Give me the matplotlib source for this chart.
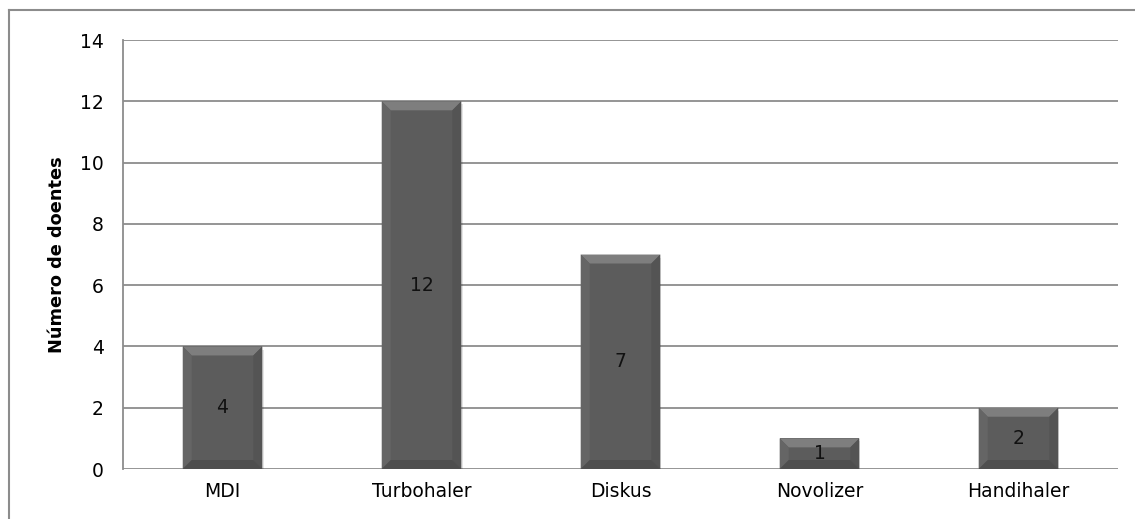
import matplotlib
matplotlib.use("Agg")
import matplotlib.pyplot as plt
from matplotlib.patches import Polygon, Rectangle
from matplotlib.lines import Line2D

dispositivos = ['MDI', 'Turbohaler', 'Diskus', 'Novolizer', 'Handihaler']
doentes = [4, 12, 7, 1, 2]
yticks = [0, 2, 4, 6, 8, 10, 12, 14]

plt.rcParams['font.family'] = ['DejaVu Sans']

fig = plt.figure(figsize=(11.35, 5.19), dpi=100)
ax = fig.add_axes([0.1084, 0.0963, 0.8766, 0.8266])

# moldura do gráfico (só esquerda e topo visíveis)
fig.add_artist(Line2D([9 / 1135, 9 / 1135], [0, 1 - 10 / 519], transform=fig.transFigure,
                      color='#8c8c8c', lw=1.5))
fig.add_artist(Line2D([9 / 1135, 1], [1 - 10 / 519, 1 - 10 / 519], transform=fig.transFigure,
                      color='#8c8c8c', lw=1.5))

ax.set_xlim(-0.5, len(dispositivos) - 0.5)
ax.set_ylim(0, 14)
ax.set_yticks(yticks)
ax.set_xticks(range(len(dispositivos)))
ax.set_xticklabels(dispositivos)
ax.grid(axis='y', color='#8c8c8c', lw=1.3)
ax.set_axisbelow(True)
for s in ['top', 'right', 'bottom']:
    ax.spines[s].set_visible(False)
ax.spines['left'].set_color('#8c8c8c')
ax.spines['left'].set_linewidth(1.3)
ax.tick_params(axis='both', length=0, labelsize=13.5, pad=9)
ax.tick_params(axis='y', pad=14)
ax.set_ylabel('Número de doentes', fontsize=12.8, fontweight='bold', labelpad=10)

largura = 0.4
bars = ax.bar(range(len(dispositivos)), doentes, width=largura, color='#5c5c5c', zorder=3)

# efeito chanfrado
pos = ax.get_position()
px_x = pos.width * fig.get_figwidth() * fig.dpi / (len(dispositivos))
px_y = pos.height * fig.get_figheight() * fig.dpi / 14
bx = 9 / px_x
by = 9 / px_y
for b in bars:
    x0, x1 = b.get_x(), b.get_x() + b.get_width()
    y0, y1 = 0, b.get_height()
    bh = min(by, (y1 - y0) / 3)
    # sombra
    ax.add_patch(Rectangle((x0 + 0.006, y0 - 0.1), x1 - x0, y1 - y0, color='#000000',
                           alpha=0.1, zorder=2.5, lw=0))
    ax.add_patch(Polygon([(x0, y1), (x1, y1), (x1 - bx, y1 - bh), (x0 + bx, y1 - bh)],
                         closed=True, color='#7e7e7e', lw=0, zorder=4))
    ax.add_patch(Polygon([(x0, y0), (x0, y1), (x0 + bx, y1 - bh), (x0 + bx, y0 + bh)],
                         closed=True, color='#656565', lw=0, zorder=4))
    ax.add_patch(Polygon([(x1, y0), (x1, y1), (x1 - bx, y1 - bh), (x1 - bx, y0 + bh)],
                         closed=True, color='#545454', lw=0, zorder=4))
    ax.add_patch(Polygon([(x0, y0), (x1, y0), (x1 - bx, y0 + bh), (x0 + bx, y0 + bh)],
                         closed=True, color='#4e4e4e', lw=0, zorder=4))
    ax.text(b.get_x() + b.get_width() / 2, y1 / 2, str(int(y1)), ha='center', va='center',
            fontsize=13.5, color='#111111', zorder=5)

fig.savefig('out.png', dpi=100, facecolor='white')
